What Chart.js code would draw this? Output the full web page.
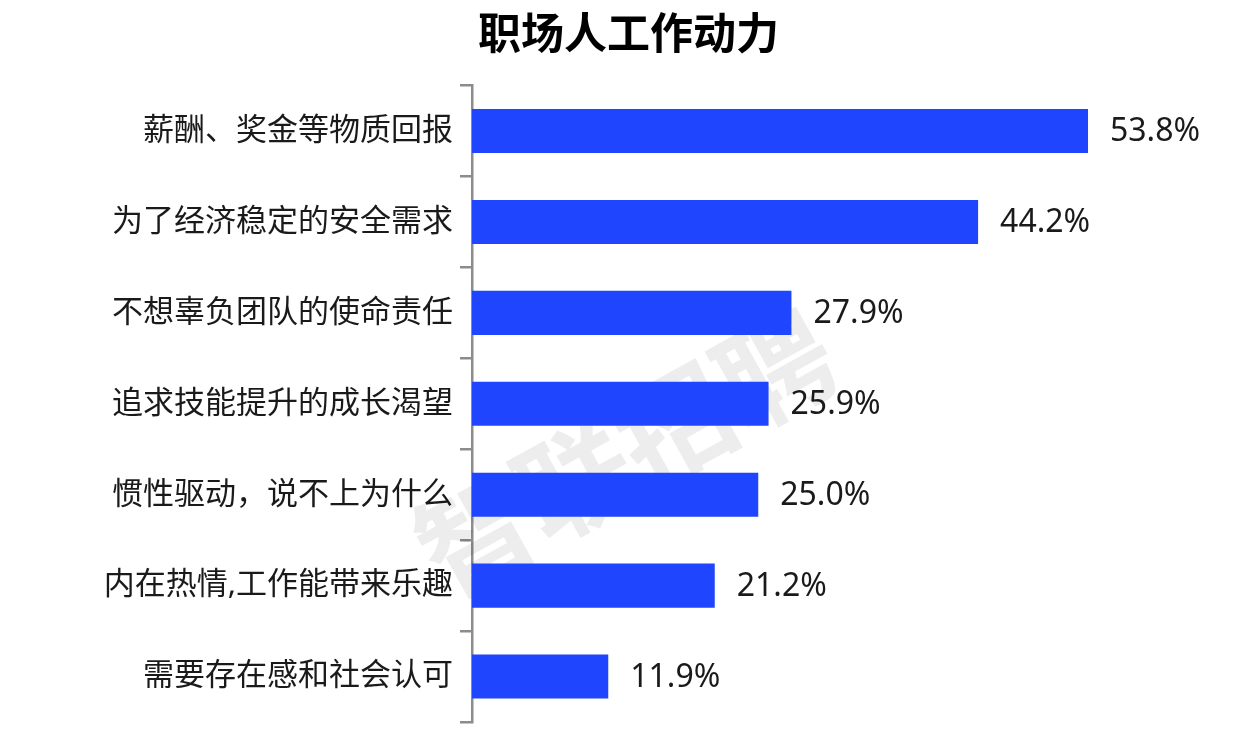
<!DOCTYPE html>
<html>
<head>
<meta charset="utf-8">
<script src="https://cdn.jsdelivr.net/npm/chart.js@4/dist/chart.umd.min.js"></script>
<style>
  html, body { margin: 0; padding: 0; background: #fff; }
  #wrap { width: 1237px; height: 731px; }
</style>
</head>
<body>
<div id="wrap"><canvas id="motiveChart"></canvas></div>
<script>
const titleText = "职场人工作动力";
const categories = [
  "薪酬、奖金等物质回报",
  "为了经济稳定的安全需求",
  "不想辜负团队的使命责任",
  "追求技能提升的成长渴望",
  "惯性驱动，说不上为什么",
  "内在热情,工作能带来乐趣",
  "需要存在感和社会认可",
];
const shares = [53.8, 44.2, 27.9, 25.9, 25.0, 21.2, 11.9];
const watermark = "智联招聘";

const FONT = "'Noto Sans', 'Noto Sans CJK SC', sans-serif";
const BLUE = "#1f45ff";
const AXIS = "#8c8c8c";

// faint rotated watermark behind the bars
const watermarkPlugin = {
  id: "watermark",
  beforeDatasetsDraw(chart) {
    const { ctx } = chart;
    ctx.save();
    ctx.translate(625, 452);
    ctx.rotate(-29 * Math.PI / 180);
    ctx.font = "bold 114px 'Noto Sans CJK SC'";
    ctx.fillStyle = "rgba(0,0,0,0.07)";
    ctx.textAlign = "center";
    ctx.textBaseline = "middle";
    ctx.fillText(watermark, 0, 0);
    ctx.restore();
  },
};

// percentage labels at bar ends
const valueLabels = {
  id: "valueLabels",
  afterDatasetsDraw(chart) {
    const { ctx } = chart;
    const meta = chart.getDatasetMeta(0);
    ctx.save();
    ctx.font = `32px ${FONT}`;
    ctx.fillStyle = "#1a1a1a";
    ctx.textAlign = "left";
    ctx.textBaseline = "middle";
    meta.data.forEach((bar, i) => {
      ctx.fillText(shares[i].toFixed(1) + "%", bar.x + 22, bar.y + 1);
    });
    ctx.restore();
  },
};

new Chart(document.getElementById("motiveChart"), {
  type: "bar",
  data: {
    labels: categories,
    datasets: [{
      data: shares,
      backgroundColor: BLUE,
      borderWidth: 0,
      categoryPercentage: 1,
      barPercentage: 0.485,
    }],
  },
  options: {
    indexAxis: "y",
    responsive: true,
    maintainAspectRatio: false,
    animation: false,
    layout: { padding: { left: 98, right: 78, top: 0, bottom: 9 } },
    plugins: {
      legend: { display: false },
      tooltip: { enabled: false },
      title: {
        display: true,
        text: titleText,
        color: "#000",
        font: { family: FONT, size: 43, weight: "bold" },
        padding: { top: 11, bottom: 23 },
      },
    },
    scales: {
      x: {
        display: false,
        min: 0,
        max: 60,
      },
      y: {
        afterFit: (scale) => {
          scale.width = 374;
          scale.paddingTop = 0;
          scale.paddingBottom = 0;
        },
        border: { display: true, color: AXIS, width: 2.5 },
        grid: {
          offset: true,
          drawOnChartArea: false,
          drawTicks: true,
          tickLength: 12,
          tickColor: AXIS,
          lineWidth: 2.5,
          color: AXIS,
        },
        ticks: {
          color: "#1a1a1a",
          padding: 7,
          font: { family: FONT, size: 31 },
        },
      },
    },
  },
  plugins: [watermarkPlugin, valueLabels],
});
</script>
</body>
</html>
